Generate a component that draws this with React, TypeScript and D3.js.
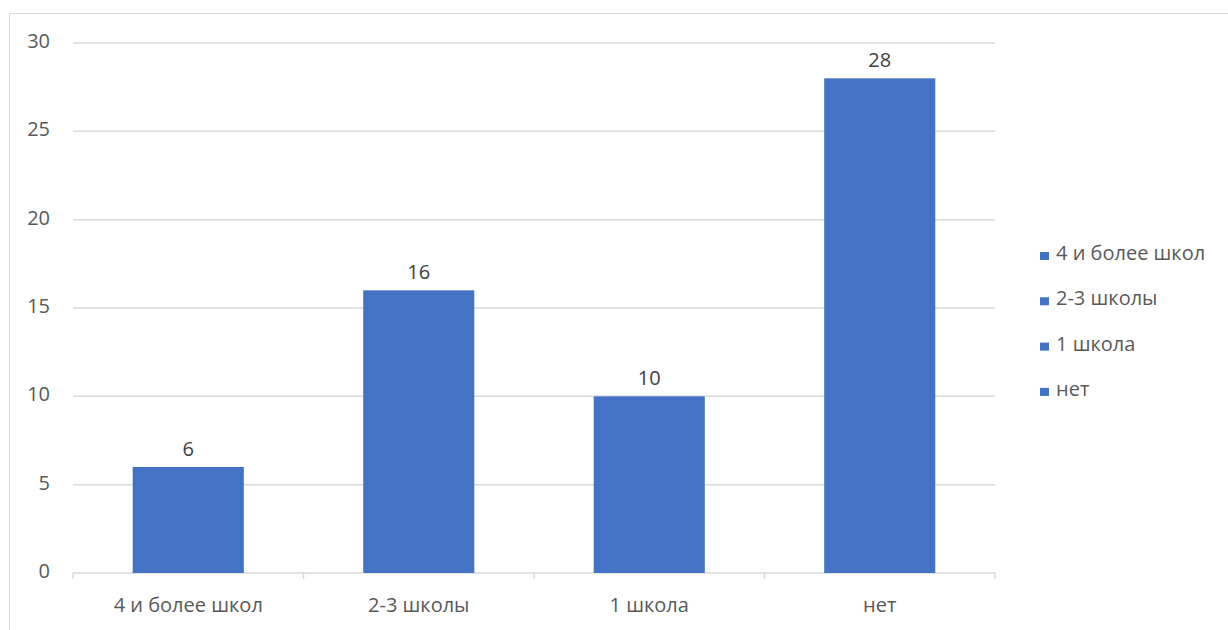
import React from "react";
import * as d3 from "d3";

const categories = ["4 и более школ", "2-3 школы", "1 школа", "нет"];
const values = [6, 16, 10, 28];
const yTicks = [0, 5, 10, 15, 20, 25, 30];
const legendLabels = ["4 и более школ", "2-3 школы", "1 школа", "нет"];

const W = 1228;
const H = 630;
const FONT = "'Open Sans', sans-serif";
const FS = 20;
const TEXT = "#595959";
const GRID = "#d9d9d9";
const BAR = "#4472c4";

export default function App() {
  const x = d3.scaleBand<string>().domain(categories).range([73, 995]).paddingInner(0.518).paddingOuter(0.259);
  const y = d3.scaleLinear().domain([0, 30]).range([573, 43]);
  const step = x.step();
  return (
    <svg width={W} height={H} style={{ position: "absolute", left: 0, top: 0 }} fontFamily={FONT}>
      <rect x={0} y={0} width={W} height={H} fill="#fff" />
      <path d={`M9.5,${H} V13.5 H${W}`} fill="none" stroke={GRID} strokeWidth={1} />
      {yTicks.map((t) => (
        <g key={t}>
          {t > 0 && <line x1={73} x2={995} y1={y(t)} y2={y(t)} stroke={GRID} strokeWidth={1.5} />}
          <text x={50} y={y(t) + 5} textAnchor="end" fontSize={FS} fill={TEXT}>{t}</text>
        </g>
      ))}
      <line x1={73} x2={995} y1={y(0)} y2={y(0)} stroke={GRID} strokeWidth={1.5} />
      {d3.range(categories.length + 1).map((i) => (
        <line key={i} x1={73 + i * step} x2={73 + i * step} y1={y(0)} y2={y(0) + 6} stroke={GRID} strokeWidth={1.5} />
      ))}
      {categories.map((c, i) => (
        <g key={c}>
          <rect x={x(c)} y={y(values[i])} width={x.bandwidth()} height={y(0) - y(values[i])} fill={BAR} />
          <text x={(x(c) as number) + x.bandwidth() / 2} y={y(values[i]) - 11} textAnchor="middle" fontSize={FS} fill="#404040">{values[i]}</text>
          <text x={(x(c) as number) + x.bandwidth() / 2} y={612} textAnchor="middle" fontSize={FS} fill={TEXT}>{c}</text>
        </g>
      ))}
      {legendLabels.map((l, i) => (
        <g key={l} transform={`translate(1040, ${260 + i * 45.3})`}>
          <rect x={0} y={-8} width={9} height={8} fill={BAR} />
          <text x={16} y={0} fontSize={FS} fill={TEXT}>{l}</text>
        </g>
      ))}
    </svg>
  );
}
